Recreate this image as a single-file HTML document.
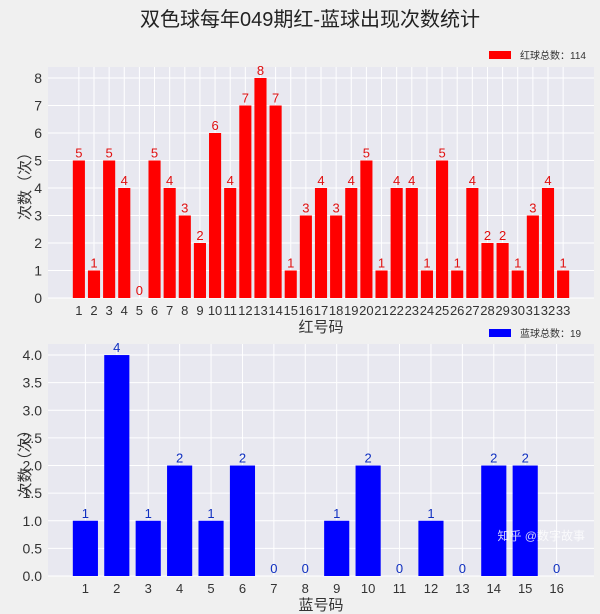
<!DOCTYPE html>
<html><head><meta charset="utf-8">
<style>
body{margin:0;background:#f0f0f0;}
svg{display:block;font-family:"Liberation Sans","Noto Sans CJK SC",sans-serif;}
</style></head>
<body>
<svg id="c" width="600" height="614">
<rect width="600" height="614" fill="#f0f0f0"/>
<text x="310" y="26" font-size="20" text-anchor="middle" fill="#222">双色球每年049期红-蓝球出现次数统计</text>
<g id="top"></g><g id="bot"></g>
<text x="585" y="540" font-size="12" text-anchor="end" fill="#fff" opacity="0.8">知乎 @数字故事</text>
</svg>
<script>
const redCats=[1,2,3,4,5,6,7,8,9,10,11,12,13,14,15,16,17,18,19,20,21,22,23,24,25,26,27,28,29,30,31,32,33];
const redVals=[5,1,5,4,0,5,4,3,2,6,4,7,8,7,1,3,4,3,4,5,1,4,4,1,5,1,4,2,2,1,3,4,1];
const redTicks=[0,1,2,3,4,5,6,7,8];
const blueCats=[1,2,3,4,5,6,7,8,9,10,11,12,13,14,15,16];
const blueVals=[1,4,1,2,1,2,0,0,1,2,0,1,0,2,2,0];
const blueTicks=[0,0.5,1,1.5,2,2.5,3,3.5,4];
const blueTickLabels=["0.0","0.5","1.0","1.5","2.0","2.5","3.0","3.5","4.0"];
const NS="http://www.w3.org/2000/svg";
function mk(p,t,a){const e=document.createElementNS(NS,t);for(const k in a)e.setAttribute(k,a[k]);p.appendChild(e);return e;}
function draw(g,cats,vals,ticks,tlabels,o){
  const L=48,R=594,T=o.top,B=o.bottom;
  const n=cats.length,lo=1-0.4-0.05*(n-0.2),hi=n+0.4+0.05*(n-0.2);
  const x=v=>L+(v-lo)/(hi-lo)*(R-L);
  const ymax=Math.max(...vals)*1.05;
  const y=v=>B-v/ymax*(B-T);
  const bg=mk(g,'rect',{x:L,y:T,width:R-L,height:B-T,fill:'#e8e8f0'});
  
  ticks.forEach((t,i)=>{
    const l=mk(g,'line',{x1:L,x2:R,y1:y(t),y2:y(t),stroke:'#fff','stroke-width':1});
    
    const tx=mk(g,'text',{x:L-6,y:y(t)+5,'font-size':14,'text-anchor':'end',fill:'#333'});
    tx.textContent=tlabels[i];
    
  });
  cats.forEach((c,i)=>{
    const l=mk(g,'line',{x1:x(c),x2:x(c),y1:T,y2:B,stroke:'#fff','stroke-width':1});
    
  });
  const bw=(x(2)-x(1))*0.8;
  cats.forEach((c,i)=>{
    const v=vals[i];
    const r=mk(g,'rect',{x:x(c)-bw/2,y:y(v),width:bw,height:B-y(v),fill:o.color});
    
    const t=mk(g,'text',{x:x(c),y:y(v)-3,'font-size':13,'text-anchor':'middle',fill:o.lblColor});
    t.textContent=v;
    
    const xt=mk(g,'text',{x:x(c),y:B+17,'font-size':o.xfs,'text-anchor':'middle',fill:'#333'});
    xt.textContent=c;
    
  });
  const xl=mk(g,'text',{x:(L+R)/2,y:B+34,'font-size':15,'text-anchor':'middle',fill:'#333'});
  xl.textContent=o.xlabel;
  
  const yl=mk(g,'text',{x:0,y:0,'font-size':15,'text-anchor':'middle',fill:'#333',transform:`translate(30,${(T+B)/2}) rotate(-90)`});
  yl.textContent='次数（次）';
  
  const lg=mk(g,'g',{});
  
  mk(lg,'rect',{x:489,y:o.legY-4,width:22,height:8,fill:o.color});
  const lt=mk(lg,'text',{x:520,y:o.legY+4,'font-size':10,fill:'#333'});
  lt.textContent=o.legend;
}
draw(document.getElementById('top'),redCats,redVals,redTicks,redTicks.map(String),
 {name:'red',top:67,bottom:298,color:'#ff0000',lblColor:'#e01010',xlabel:'红号码',legend:'红球总数：114',legY:55,xfs:13});
draw(document.getElementById('bot'),blueCats,blueVals,blueTicks,blueTickLabels,
 {name:'blue',top:344,bottom:576,color:'#0000ff',lblColor:'#1030c0',xlabel:'蓝号码',legend:'蓝球总数：19',legY:333,xfs:13});
</script>
</body></html>
